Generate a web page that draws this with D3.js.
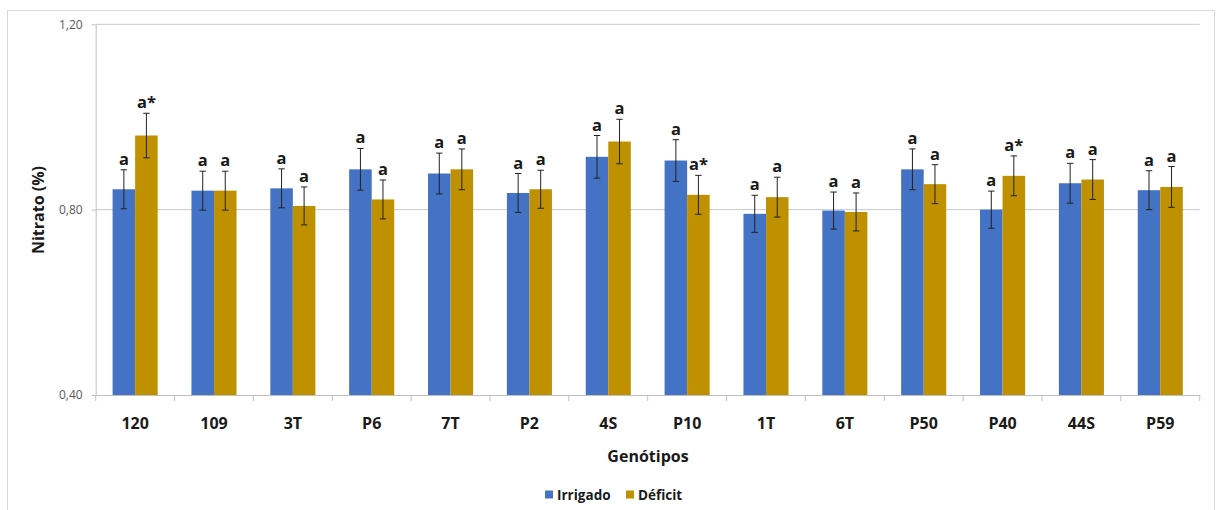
<!DOCTYPE html>
<html><head><meta charset="utf-8">
<script src="https://cdn.jsdelivr.net/npm/d3@7"></script>
<style>
html,body{margin:0;padding:0;background:#fff;}
svg{display:block;font-family:"Open Sans",sans-serif;}
</style></head>
<body>
<svg id="chart" width="1216" height="510"></svg>
<script>
const categories = ["120","109","3T","P6","7T","P2","4S","P10","1T","6T","P50","P40","44S","P59"];
const seriesNames = ["Irrigado","Déficit"];
const irrigado = [0.844,0.841,0.846,0.887,0.878,0.836,0.914,0.906,0.791,0.798,0.887,0.800,0.857,0.842];
const deficit  = [0.960,0.841,0.808,0.822,0.887,0.844,0.947,0.832,0.827,0.795,0.855,0.873,0.865,0.849];
const irrigadoErr = [0.042,0.042,0.042,0.045,0.044,0.042,0.046,0.045,0.040,0.040,0.044,0.040,0.043,0.042];
const deficitErr  = [0.048,0.042,0.041,0.042,0.044,0.041,0.048,0.042,0.043,0.041,0.042,0.043,0.043,0.044];
const irrigadoLabels = ["a","a","a","a","a","a","a","a","a","a","a","a","a","a"];
const deficitLabels  = ["a*","a","a","a","a","a","a","a*","a","a","a","a*","a","a"];
const yTicks = [0.40,0.80,1.20];
const colors = ["#4472C4","#BF9000"];

const svg = d3.select("#chart");
const L = 95.7, R = 1199.7, T = 24.3, B = 395;

// outer frame
svg.append("rect").attr("x",7.5).attr("y",10.5).attr("width",1207).attr("height",520)
  .attr("fill","none").attr("stroke","#d9d9d9").attr("stroke-width",1);

const x0 = d3.scaleBand().domain(categories).range([L,R]).paddingInner(0).paddingOuter(0);
const barW = x0.bandwidth()/3.5;
const x1 = d3.scaleBand().domain(seriesNames).range([0,2*barW]);
const y = d3.scaleLinear().domain([0.4,1.2]).range([B,T]);

// gridlines
svg.append("g").selectAll("line").data(yTicks.slice(1)).join("line")
  .attr("x1",L).attr("x2",R).attr("y1",d=>y(d)).attr("y2",d=>y(d))
  .attr("stroke","#c8c8c8").attr("stroke-width",1);

// y axis
const yAxis = d3.axisLeft(y).tickValues(yTicks).tickSize(4).tickSizeOuter(0).tickPadding(9)
  .tickFormat(d=>d3.format(".2f")(d).replace(".",","));
const gy = svg.append("g").attr("transform",`translate(${L},0)`).call(yAxis);
gy.select(".domain").attr("stroke","#bfbfbf");
gy.selectAll(".tick line").attr("stroke","#bfbfbf");
gy.selectAll("text").attr("fill","#595959").style("font-size","12px").style("font-family","Open Sans, sans-serif");

// bars
const data = categories.map((c,i)=>({c, vals:[
  {s:seriesNames[0], v:irrigado[i], e:irrigadoErr[i], lab:irrigadoLabels[i], col:colors[0]},
  {s:seriesNames[1], v:deficit[i], e:deficitErr[i], lab:deficitLabels[i], col:colors[1]}]}));

const off = (x0.bandwidth()-2*barW)/2;
const groups = svg.append("g").selectAll("g").data(data).join("g")
  .attr("transform",d=>`translate(${x0(d.c)+off},0)`);

groups.selectAll("rect").data(d=>d.vals).join("rect")
  .attr("x",d=>x1(d.s)).attr("width",barW)
  .attr("y",d=>y(d.v)).attr("height",d=>B-y(d.v))
  .attr("fill",d=>d.col);

// error bars
const eb = groups.selectAll("g.err").data(d=>d.vals).join("g").attr("class","err")
  .attr("transform",d=>`translate(${x1(d.s)+barW/2},0)`);
eb.append("line").attr("x1",0).attr("x2",0).attr("y1",d=>y(d.v+d.e)).attr("y2",d=>y(d.v-d.e))
  .attr("stroke","#222").attr("stroke-width",1);
eb.append("line").attr("x1",-3.2).attr("x2",3.2).attr("y1",d=>y(d.v+d.e)).attr("y2",d=>y(d.v+d.e))
  .attr("stroke","#222").attr("stroke-width",1);
eb.append("line").attr("x1",-3.2).attr("x2",3.2).attr("y1",d=>y(d.v-d.e)).attr("y2",d=>y(d.v-d.e))
  .attr("stroke","#222").attr("stroke-width",1);
eb.append("text").attr("x",0).attr("y",d=>y(d.v+d.e)-5)
  .attr("text-anchor","middle").attr("fill","#1a1a1a")
  .style("font-size","16.5px").style("font-weight","bold")
  .text(d=>d.lab);

// x axis
const xAxis = d3.axisBottom(x0).tickSize(0).tickPadding(23);
const gx = svg.append("g").attr("transform",`translate(0,${B})`).call(xAxis);
gx.select(".domain").attr("stroke","#bfbfbf");
gx.selectAll("text").attr("fill","#1a1a1a").style("font-size","16px").style("font-weight","bold").style("font-family","Open Sans, sans-serif");
// category boundary ticks
const bounds = categories.map(c=>x0(c)).concat([R]);
svg.append("g").selectAll("line").data(bounds).join("line")
  .attr("x1",d=>d).attr("x2",d=>d).attr("y1",B).attr("y2",B+6)
  .attr("stroke","#bfbfbf");

// axis titles
svg.append("text").attr("x",648).attr("y",462).attr("text-anchor","middle")
  .attr("fill","#1a1a1a").style("font-size","16px").style("font-weight","bold").text("Genótipos");
svg.append("text").attr("transform","translate(44,210) rotate(-90)").attr("text-anchor","middle")
  .attr("fill","#1a1a1a").style("font-size","16px").style("font-weight","bold").text("Nitrato (%)");

// legend
const leg = svg.append("g").attr("transform","translate(545,495)");
const legX = [0,81];
seriesNames.forEach((s,i)=>{
  const g = leg.append("g").attr("transform",`translate(${legX[i]},0)`);
  g.append("rect").attr("x",0).attr("y",-4.5).attr("width",8).attr("height",8).attr("fill",colors[i]);
  g.append("text").attr("x",12).attr("y",4.5).attr("fill","#1a1a1a")
    .style("font-size","13.5px").style("font-weight","bold").text(s);
});
</script>
</body></html>
